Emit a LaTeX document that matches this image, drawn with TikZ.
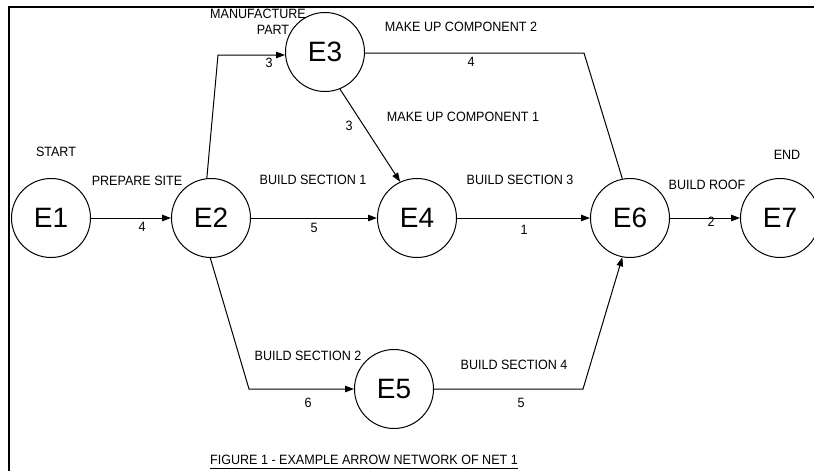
\documentclass[tikz,border=0pt]{standalone}
\usepackage{fontspec}
\setmainfont{Liberation Sans}
\newfontfamily\labelfont[FakeStretch=0.93]{Liberation Sans}
\usetikzlibrary{arrows.meta}
\begin{document}
\begin{tikzpicture}[x=1pt,y=-1pt,
  event/.style={draw, circle, line width=1pt, minimum size=79pt, inner sep=0pt,
                font=\fontsize{28}{30}\selectfont},
  lbl/.style={inner sep=0pt, font=\labelfont\fontsize{13.5}{15}\selectfont},
  act/.style={line width=1pt},
  actarrow/.style={line width=1pt, -{Triangle[length=9pt,width=6.5pt]}},
  frameline/.style={line width=2.2pt}]
\useasboundingbox (0,0) rectangle (814,471);
\clip (0,0) rectangle (814,471);

% frame along the top and left edges
\draw[frameline] (9,471) -- (9,7) -- (814,7);

% events
\node[event] (E1) at (51,218) {E1};
\node[event] (E2) at (211,218) {E2};
\node[event] (E3) at (325,52) {E3};
\node[event] (E4) at (417,218) {E4};
\node[event] (E5) at (394,389) {E5};
\node[event] (E6) at (630,218) {E6};
\node[event] (E7) at (780,218) {E7};

% bend points of the routed activities
\coordinate (b23) at (218,55);
\coordinate (b36) at (584,53);
\coordinate (b25) at (249,389);
\coordinate (b56) at (583,389);

% activities
\draw[actarrow] (E1) -- (E2);
\draw[actarrow] (E2.96) -- (b23) -- (b23 -| E3.west);
\draw[act] (E3.east |- b36) -- (b36) -- (E6.101);
\draw[actarrow] (E3.-68) -- (E4.115);
\draw[actarrow] (E2) -- (E4);
\draw[actarrow] (E4) -- (E6);
\draw[actarrow] (E6) -- (E7);
\draw[actarrow] (E2.-91) -- (b25) -- (E5.west);
\draw[actarrow] (E5.east) -- (b56) -- (E6.-101);

% activity names and durations
\node[lbl] (tstart) at (56,152) {START};
\node[lbl] (tprep) at (137,181) {PREPARE SITE};
\node[lbl] (d12) at (142,227) {4};
\node[lbl] (tmanu) at (258,14) {MANUFACTURE};
\node[lbl] (tpart) at (273,30) {PART};
\node[lbl] (d23) at (269,63) {3};
\node[lbl] (tmc2) at (461,27) {MAKE UP COMPONENT 2};
\node[lbl] (d36) at (471,62) {4};
\node[lbl] (tmc1) at (463,117) {MAKE UP COMPONENT 1};
\node[lbl] (d34) at (349,126) {3};
\node[lbl] (tbs1) at (313,180) {BUILD SECTION 1};
\node[lbl] (d24) at (314,228) {5};
\node[lbl] (tbs3) at (520,180) {BUILD SECTION 3};
\node[lbl] (d46) at (524,230) {1};
\node[lbl] (troof) at (707,185) {BUILD ROOF};
\node[lbl] (d67) at (711,222) {2};
\node[lbl] (tend) at (787,155) {END};
\node[lbl] (tbs2) at (308,356) {BUILD SECTION 2};
\node[lbl] (d25) at (308,403) {6};
\node[lbl] (tbs4) at (514,365) {BUILD SECTION 4};
\node[lbl] (d56) at (521,403) {5};

% caption, underlined
\node[lbl] (cap) at (364,460) {FIGURE 1 - EXAMPLE ARROW NETWORK OF NET 1};
\draw[line width=0.8pt] ([yshift=-3.5pt]cap.south west) -- ([yshift=-3.5pt]cap.south east);
\end{tikzpicture}
\end{document}
